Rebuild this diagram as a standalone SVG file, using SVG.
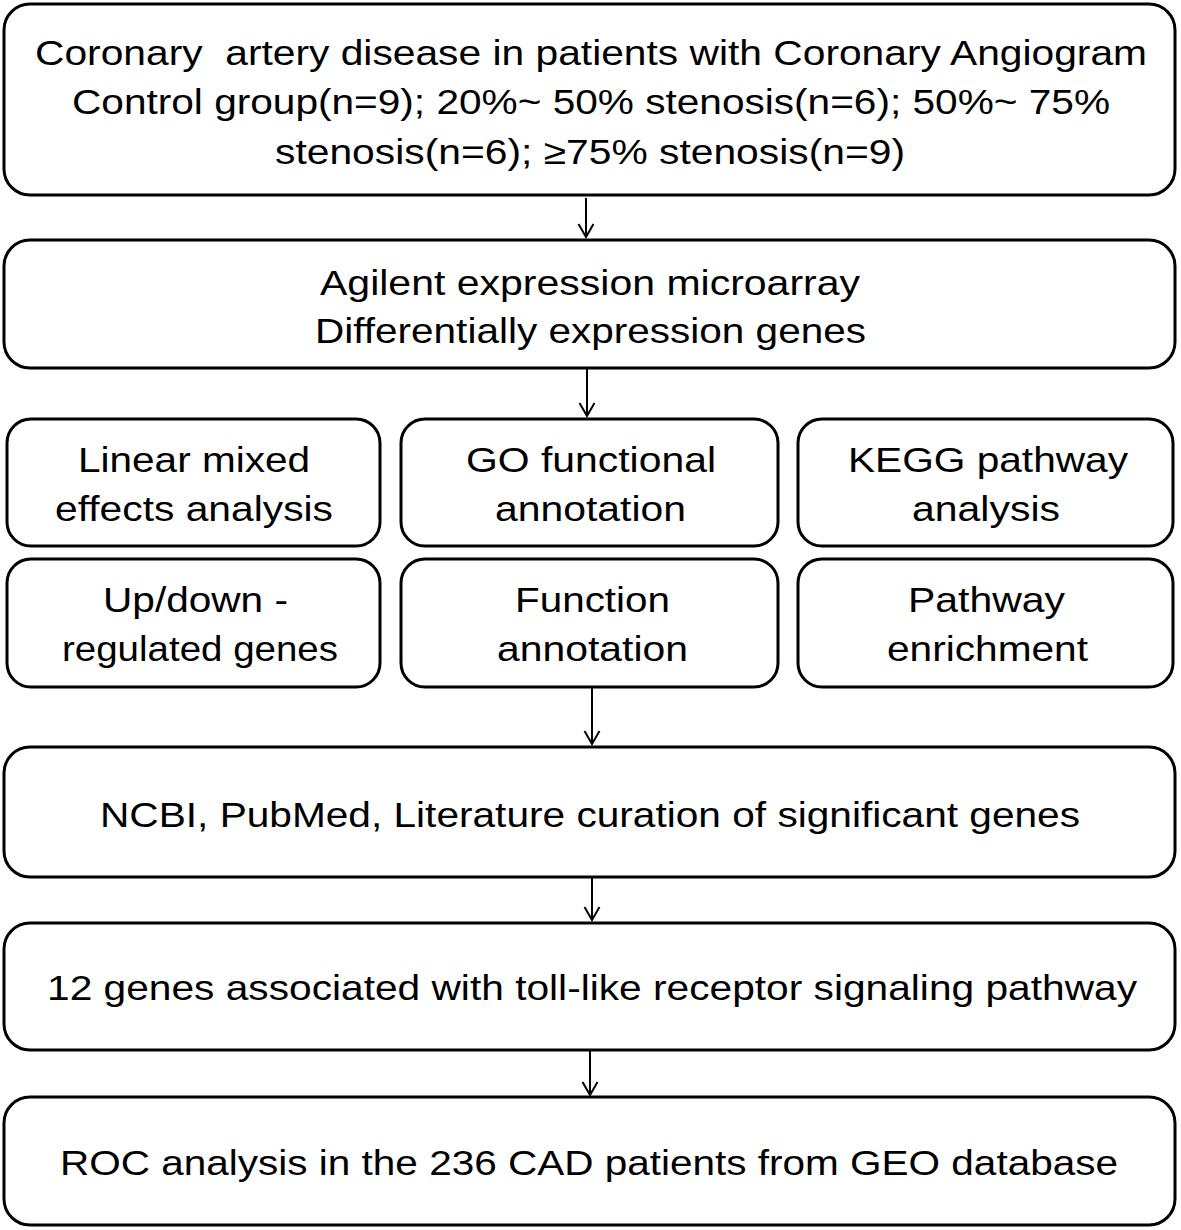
<svg xmlns="http://www.w3.org/2000/svg" width="1181" height="1230" viewBox="0 0 1181 1230">
<style>
.box{fill:#fff;stroke:#000;stroke-width:3}
.t{font-family:"Liberation Sans",Arial,sans-serif;font-size:35px;fill:#000;text-anchor:middle}
.c{stroke:#000;stroke-width:2;fill:none}
</style>
<defs>
<marker id="ah" markerWidth="18" markerHeight="18" refX="15" refY="9" orient="auto" markerUnits="userSpaceOnUse" viewBox="0 0 18 18">
<path d="M2,1.5 L15,9 L2,16.5" fill="none" stroke="#000" stroke-width="2"/>
</marker>
</defs>
<rect width="1181" height="1230" fill="#fff"/>
<g id="connectors">
<line class="c" x1="586" y1="198" x2="586" y2="237" marker-end="url(#ah)"/>
<line class="c" x1="587" y1="369" x2="587" y2="416" marker-end="url(#ah)"/>
<line class="c" x1="592" y1="688" x2="592" y2="744" marker-end="url(#ah)"/>
<line class="c" x1="592" y1="878" x2="592" y2="920" marker-end="url(#ah)"/>
<line class="c" x1="590" y1="1051" x2="590" y2="1095" marker-end="url(#ah)"/>
</g>
<g id="n1"><rect class="box" x="4" y="4" width="1171" height="191" rx="26"/>
<text class="t" x="591" y="65" xml:space="preserve" textLength="1112" lengthAdjust="spacingAndGlyphs">Coronary  artery disease in patients with Coronary Angiogram</text>
<text class="t" x="591" y="114" textLength="1038" lengthAdjust="spacingAndGlyphs">Control group(n=9); 20%~ 50% stenosis(n=6); 50%~ 75%</text>
<text class="t" x="590" y="164" textLength="630" lengthAdjust="spacingAndGlyphs">stenosis(n=6); ≥75% stenosis(n=9)</text></g>
<g id="n2"><rect class="box" x="4" y="240" width="1171" height="128" rx="26"/>
<text class="t" x="590" y="295" textLength="540" lengthAdjust="spacingAndGlyphs">Agilent expression microarray</text>
<text class="t" x="590.5" y="343" textLength="551" lengthAdjust="spacingAndGlyphs">Differentially expression genes</text></g>
<g id="n3"><rect class="box" x="7" y="419" width="373" height="127" rx="24"/>
<text class="t" x="194" y="472" textLength="232" lengthAdjust="spacingAndGlyphs">Linear mixed</text>
<text class="t" x="194" y="521" textLength="278" lengthAdjust="spacingAndGlyphs">effects analysis</text></g>
<g id="n4"><rect class="box" x="401" y="419" width="377" height="127" rx="24"/>
<text class="t" x="591" y="472" textLength="250" lengthAdjust="spacingAndGlyphs">GO functional</text>
<text class="t" x="590.5" y="521" textLength="191" lengthAdjust="spacingAndGlyphs">annotation</text></g>
<g id="n5"><rect class="box" x="798" y="419" width="375" height="127" rx="24"/>
<text class="t" x="988" y="472" textLength="280" lengthAdjust="spacingAndGlyphs">KEGG pathway</text>
<text class="t" x="986" y="521" textLength="148" lengthAdjust="spacingAndGlyphs">analysis</text></g>
<g id="n6"><rect class="box" x="7" y="559" width="373" height="128" rx="24"/>
<text class="t" x="195.5" y="612" textLength="185" lengthAdjust="spacingAndGlyphs">Up/down -</text>
<text class="t" x="200" y="661" textLength="276" lengthAdjust="spacingAndGlyphs">regulated genes</text></g>
<g id="n7"><rect class="box" x="401" y="559" width="377" height="128" rx="24"/>
<text class="t" x="592.5" y="612" textLength="155" lengthAdjust="spacingAndGlyphs">Function</text>
<text class="t" x="592.5" y="661" textLength="191" lengthAdjust="spacingAndGlyphs">annotation</text></g>
<g id="n8"><rect class="box" x="798" y="559" width="375" height="128" rx="24"/>
<text class="t" x="986.5" y="612" textLength="157" lengthAdjust="spacingAndGlyphs">Pathway</text>
<text class="t" x="987.5" y="661" textLength="201" lengthAdjust="spacingAndGlyphs">enrichment</text></g>
<g id="n9"><rect class="box" x="4" y="747" width="1171" height="130" rx="26"/>
<text class="t" x="590" y="827" textLength="980" lengthAdjust="spacingAndGlyphs">NCBI, PubMed, Literature curation of significant genes</text></g>
<g id="n10"><rect class="box" x="4" y="923" width="1171" height="127" rx="26"/>
<text class="t" x="592" y="1000" textLength="1090" lengthAdjust="spacingAndGlyphs">12 genes associated with toll-like receptor signaling pathway</text></g>
<g id="n11"><rect class="box" x="4" y="1097" width="1171" height="128" rx="26"/>
<text class="t" x="589" y="1175" textLength="1058" lengthAdjust="spacingAndGlyphs">ROC analysis in the 236 CAD patients from GEO database</text></g>
</svg>
